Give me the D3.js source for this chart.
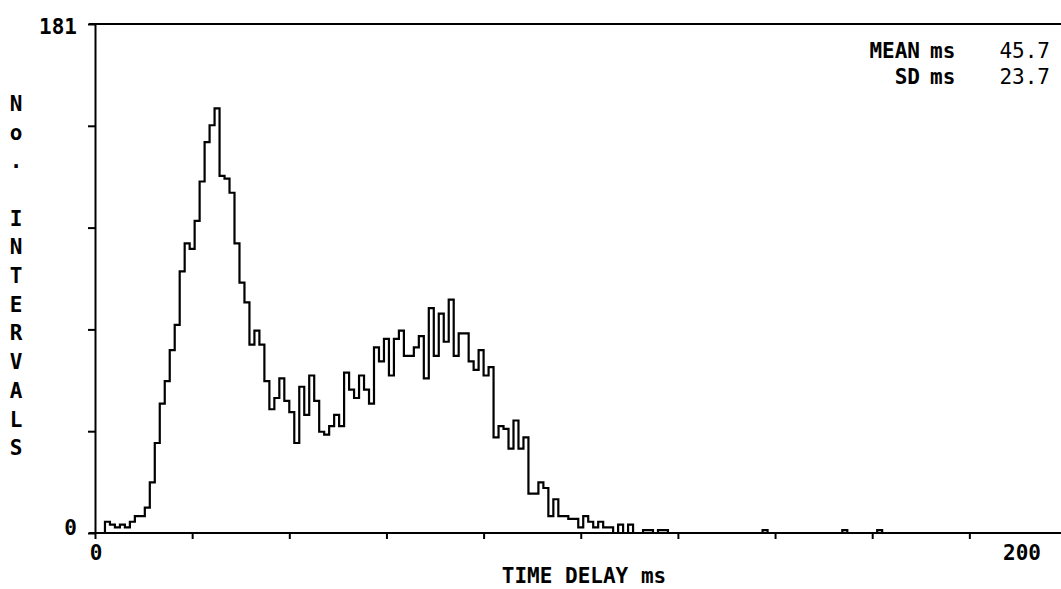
<!DOCTYPE html>
<html>
<head>
<meta charset="utf-8">
<script src="https://cdn.jsdelivr.net/npm/d3@7"></script>
<style>
  body { margin: 0; background: #fff; }
  svg { display: block; }
  text { font-family: "DejaVu Sans Mono", monospace; font-weight: bold; fill: #000; }
</style>
</head>
<body>
<svg></svg>
<script>
var width = 1061;
var height = 589;

// interval counts per bin, from 0 ms
var counts = [
  0, 0, 4, 3, 2, 3, 2, 4, 6, 6,
  9, 18, 32, 46, 54, 65, 74, 93, 103, 101,
  111, 125, 139, 145, 151, 127, 126, 121, 103, 89,
  82, 67, 72, 67, 54, 44, 48, 55, 47, 43,
  32, 52, 42, 56, 47, 36, 35, 38, 42, 38,
  57, 51, 48, 56, 51, 46, 66, 61, 69, 56,
  69, 72, 63, 63, 66, 70, 55, 80, 63, 78,
  68, 83, 63, 71, 71, 61, 58, 65, 56, 59,
  34, 38, 37, 30, 40, 30, 34, 14, 14, 18,
  16, 6, 12, 6, 6, 5, 5, 2, 6, 4,
  2, 4, 2, 2, 0, 3, 0, 3, 0, 0,
  1, 1, 0, 1, 1
];
// lone counts further out in the tail
var tailBins = [134, 150, 157];
var tailCounts = [1, 1, 1];

var nBins = 160;
var binMs = 200 / 195;        // 195 bins fill the 0-200 ms axis

var yMax = 181;
var yTickCount = 5;
var yLabels = [0, 181];
var xTicks = d3.range(0, 200, 20);
var xLabels = [0, 200];

var yTitle = "No. INTERVALS";
var xTitle = "TIME DELAY ms";

var statNames = ["MEAN", "SD"];
var statUnits = ["ms", "ms"];
var statValues = ["45.7", "23.7"];

// full bin array
var bins = d3.range(nBins).map(i => i < counts.length ? counts[i] : 0);
tailBins.forEach((b, i) => { bins[b] = tailCounts[i]; });

var x = d3.scaleLinear().domain([0, 200]).range([95, 1066.5]);
var y = d3.scaleLinear().domain([0, yMax]).range([533, 24]);

var svg = d3.select("svg")
            .attr("width", width)
            .attr("height", height);

// top frame line
svg.append("line")
    .attr("x1", x(0) - 6).attr("x2", width)
    .attr("y1", y(yMax)).attr("y2", y(yMax))
    .attr("stroke", "#000").attr("stroke-width", 2);

// y axis
var yAxis = d3.axisLeft(y)
              .tickValues(d3.range(yTickCount + 1).map(k => yMax * k / yTickCount))
              .tickSize(7)
              .tickSizeOuter(0)
              .tickFormat("");

svg.append("g")
    .attr("transform", "translate(" + x(0) + ",0)")
    .call(yAxis)
    .call(g => g.selectAll("path, line").attr("stroke", "#000").attr("stroke-width", 2));

// x axis
var xAxis = d3.axisBottom(x)
              .tickValues(xTicks)
              .tickSize(6)
              .tickSizeOuter(0)
              .tickFormat("");

svg.append("g")
    .attr("transform", "translate(0," + y(0) + ")")
    .call(xAxis)
    .call(g => g.select(".domain").remove())
    .call(g => g.selectAll("line").attr("stroke", "#000").attr("stroke-width", 2));

svg.append("line")
    .attr("x1", x(0) - 6).attr("x2", width)
    .attr("y1", y(0)).attr("y2", y(0))
    .attr("stroke", "#000").attr("stroke-width", 2);

// histogram outline
var pts = [[0, 0]];
bins.forEach((c, i) => pts.push([i * binMs, c]));
pts.push([nBins * binMs, 0]);

var line = d3.line()
             .x(d => x(d[0]))
             .y(d => y(d[1]))
             .curve(d3.curveStepAfter);

svg.append("path")
    .datum(pts)
    .attr("d", line)
    .attr("fill", "none")
    .attr("stroke", "#000")
    .attr("stroke-width", 2.2)
    .attr("stroke-linejoin", "miter");

// y tick labels
svg.selectAll(".ylab")
  .data(yLabels)
  .enter()
  .append("text")
    .attr("class", "ylab")
    .attr("x", 77)
    .attr("y", d => y(d) + (d === yMax ? 9.5 : 1.5))
    .attr("font-size", 21)
    .style("text-anchor", "end")
    .text(d => d);

// x tick labels
svg.selectAll(".xlab")
  .data(xLabels)
  .enter()
  .append("text")
    .attr("class", "xlab")
    .attr("x", d => Math.min(x(d) + 1, width - 20))
    .attr("y", 560)
    .attr("font-size", 21)
    .style("text-anchor", d => x(d) + 1 > width - 20 ? "end" : "middle")
    .text(d => d);

// axis titles
svg.append("text")
    .attr("x", 584)
    .attr("y", 583)
    .attr("font-size", 21)
    .style("text-anchor", "middle")
    .text(xTitle);

svg.selectAll(".ytitle")
  .data(yTitle.split(""))
  .enter()
  .append("text")
    .attr("class", "ytitle")
    .attr("x", 16)
    .attr("y", (d, i) => 103.5 + i * 28.7)
    .attr("dy", "0.35em")
    .attr("font-size", 21)
    .style("text-anchor", "middle")
    .text(d => d);

// stats block
var stats = svg.append("g");
statNames.forEach((name, i) => {
  var yy = 57.5 + i * 26;
  stats.append("text")
      .attr("x", 920).attr("y", yy)
      .attr("font-size", 21)
      .style("text-anchor", "end")
      .text(name);
  stats.append("text")
      .attr("x", 930).attr("y", yy)
      .attr("font-size", 21)
      .text(statUnits[i]);
  stats.append("text")
      .attr("x", 1050).attr("y", yy)
      .attr("font-size", 21)
      .style("font-weight", "normal")
      .style("text-anchor", "end")
      .text(statValues[i]);
});
</script>
</body>
</html>
